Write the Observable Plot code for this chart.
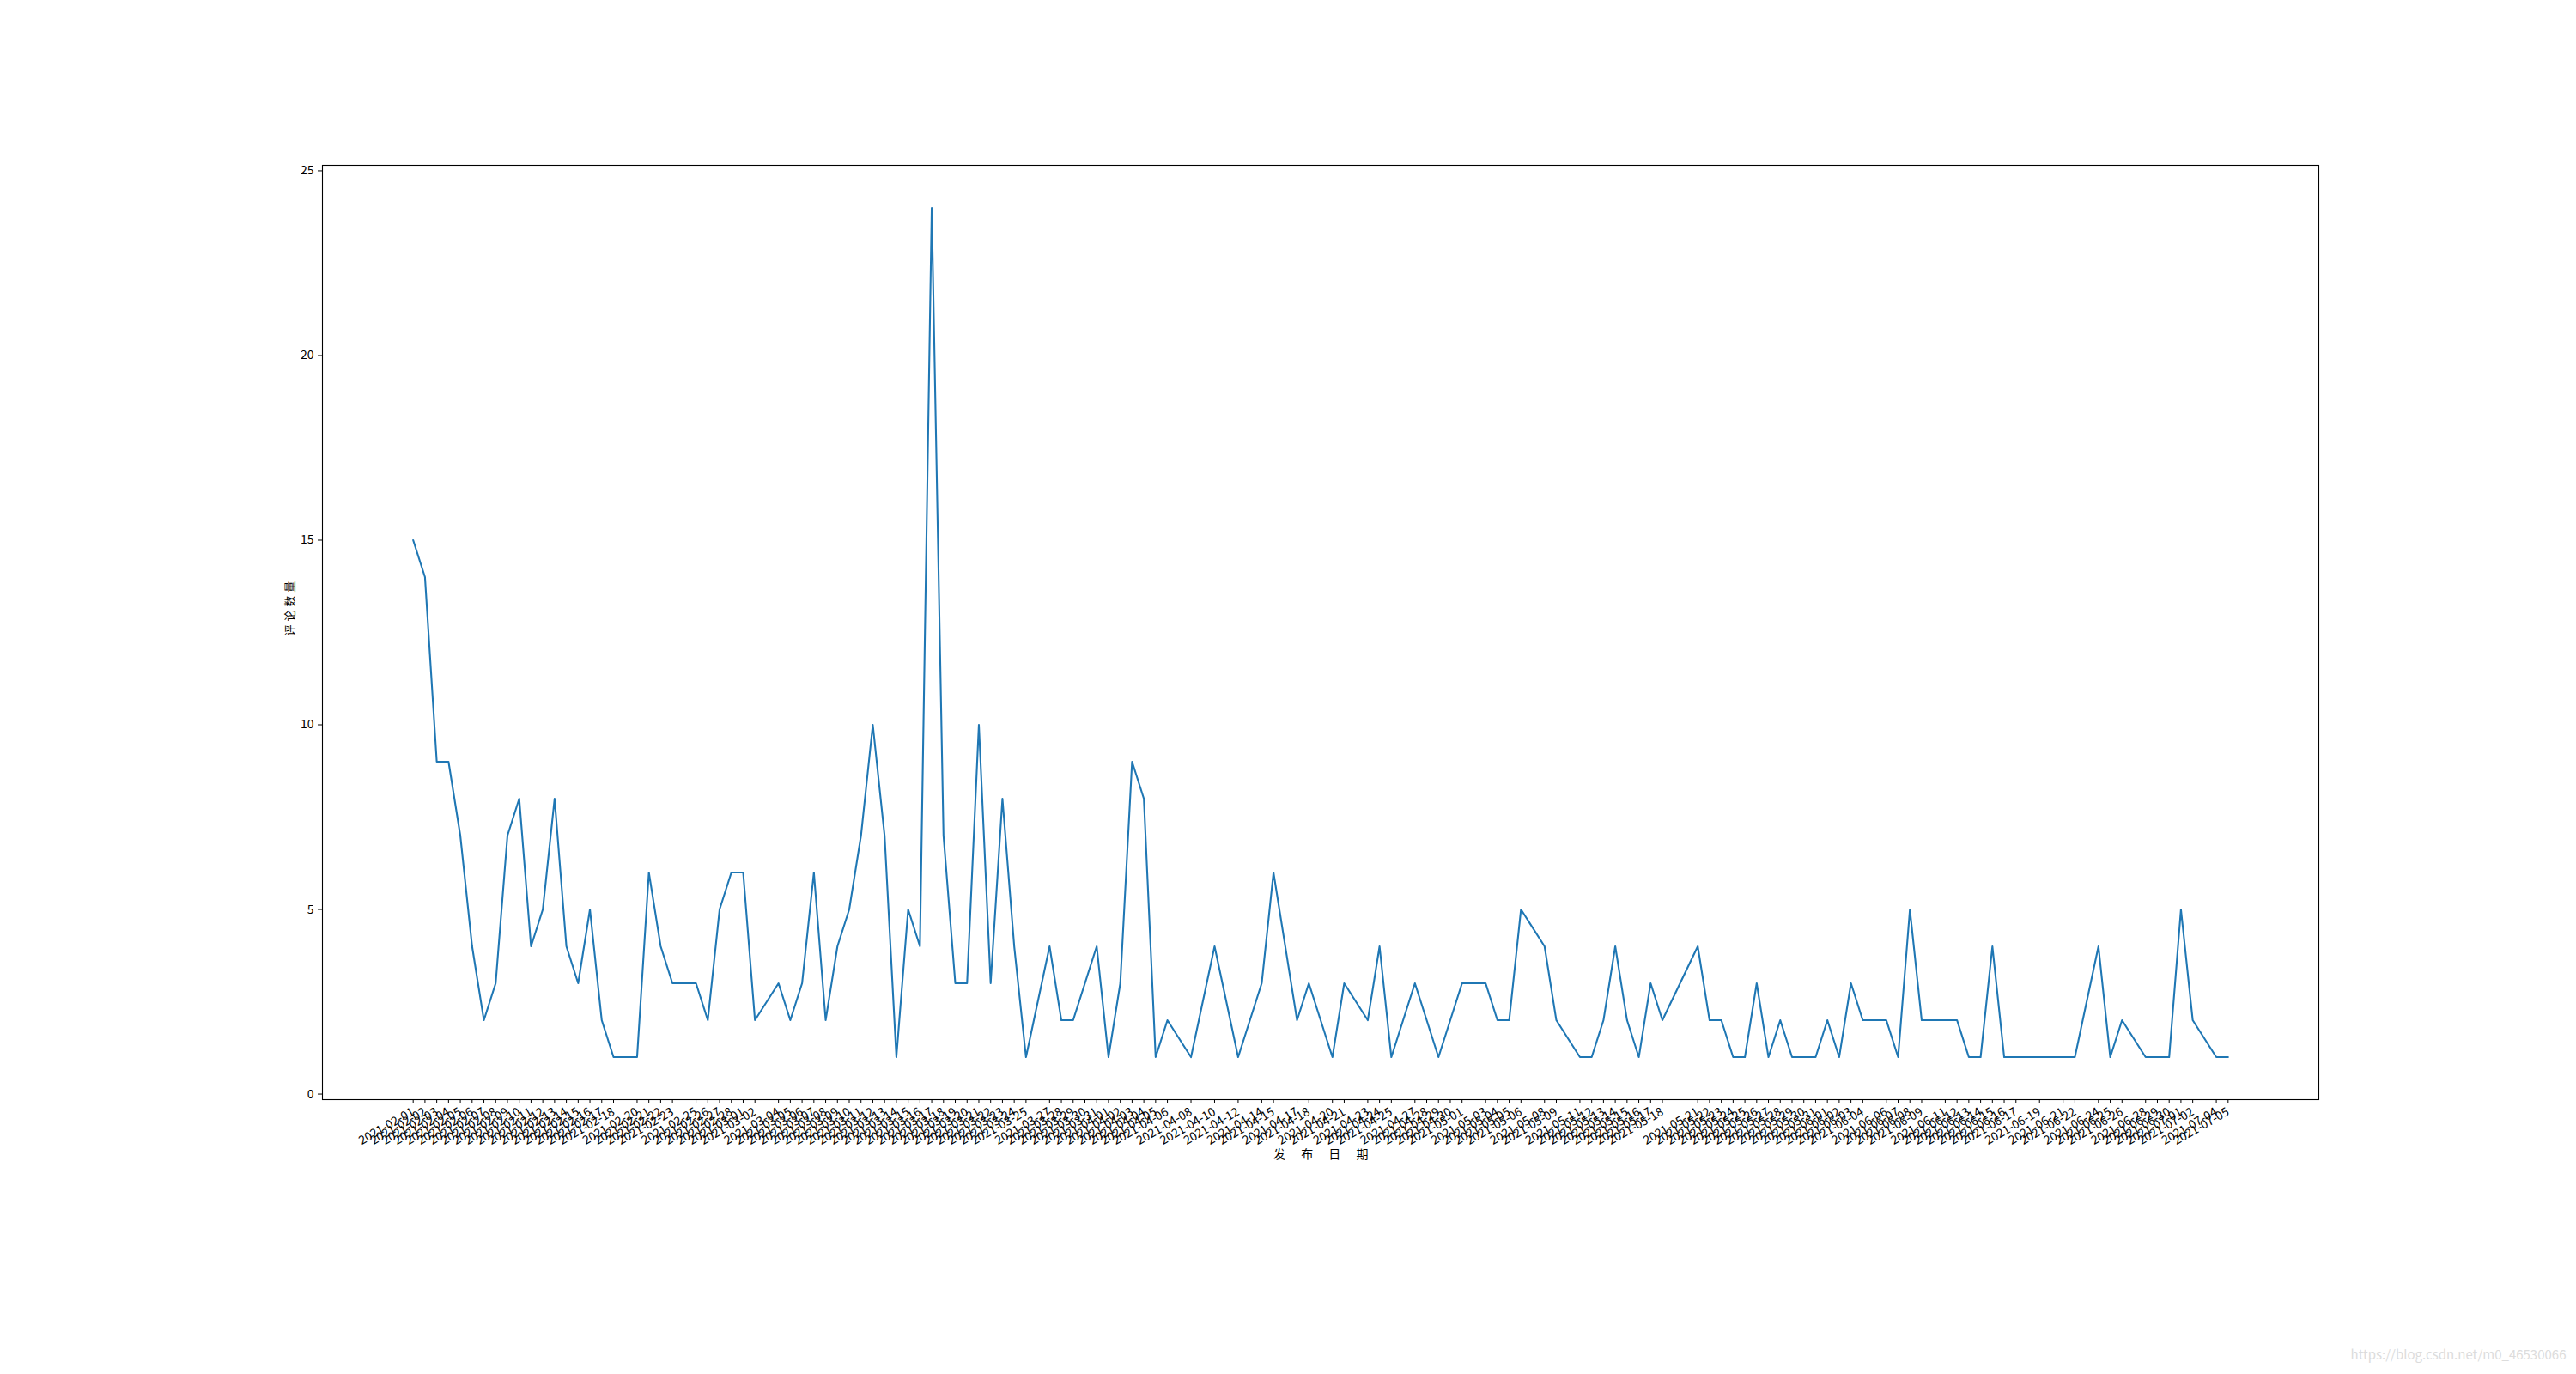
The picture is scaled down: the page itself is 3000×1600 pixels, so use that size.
<!DOCTYPE html>
<html><head><meta charset="utf-8">
<script src="https://cdn.jsdelivr.net/npm/d3@7"></script>
<script src="https://cdn.jsdelivr.net/npm/@observablehq/plot@0.6"></script>
<style>
html,body{margin:0;padding:0;background:#fff;}
#chart{position:relative;width:3000px;height:1600px;overflow:hidden;}
</style></head><body><div id="chart"></div>
<script>
const dates = [
"2021-02-01","2021-02-02","2021-02-03","2021-02-04","2021-02-05","2021-02-06","2021-02-07","2021-02-08","2021-02-09","2021-02-10",
"2021-02-11","2021-02-12","2021-02-13","2021-02-14","2021-02-15","2021-02-16","2021-02-17","2021-02-18","2021-02-20","2021-02-21",
"2021-02-22","2021-02-23","2021-02-25","2021-02-26","2021-02-27","2021-02-28","2021-03-01","2021-03-02","2021-03-04","2021-03-05",
"2021-03-06","2021-03-07","2021-03-08","2021-03-09","2021-03-10","2021-03-11","2021-03-12","2021-03-13","2021-03-14","2021-03-15",
"2021-03-16","2021-03-17","2021-03-18","2021-03-19","2021-03-20","2021-03-21","2021-03-22","2021-03-23","2021-03-24","2021-03-25",
"2021-03-27","2021-03-28","2021-03-29","2021-03-30","2021-03-31","2021-04-01","2021-04-02","2021-04-03","2021-04-04","2021-04-05",
"2021-04-06","2021-04-08","2021-04-10","2021-04-12","2021-04-14","2021-04-15","2021-04-17","2021-04-18","2021-04-20","2021-04-21",
"2021-04-23","2021-04-24","2021-04-25","2021-04-27","2021-04-28","2021-04-29","2021-04-30","2021-05-01","2021-05-03","2021-05-04",
"2021-05-05","2021-05-06","2021-05-08","2021-05-09","2021-05-11","2021-05-12","2021-05-13","2021-05-14","2021-05-15","2021-05-16",
"2021-05-17","2021-05-18","2021-05-21","2021-05-22","2021-05-23","2021-05-24","2021-05-25","2021-05-26","2021-05-27","2021-05-28",
"2021-05-29","2021-05-30","2021-05-31","2021-06-01","2021-06-02","2021-06-03","2021-06-04","2021-06-06","2021-06-07","2021-06-08",
"2021-06-09","2021-06-11","2021-06-12","2021-06-13","2021-06-14","2021-06-15","2021-06-16","2021-06-17","2021-06-19","2021-06-21",
"2021-06-22","2021-06-24","2021-06-25","2021-06-26","2021-06-28","2021-06-29","2021-06-30","2021-07-01","2021-07-02","2021-07-04",
"2021-07-05"
];
const counts = [
15,14,9,9,7,4,2,3,7,8,
4,5,8,4,3,5,2,1,1,6,
4,3,3,2,5,6,6,2,3,2,
3,6,2,4,5,7,10,7,1,5,
4,24,7,3,3,10,3,8,4,1,
4,2,2,3,4,1,3,9,8,1,
2,1,4,1,3,6,2,3,1,3,
2,4,1,3,2,1,2,3,3,2,
2,5,4,2,1,1,2,4,2,1,
3,2,4,2,2,1,1,3,1,2,
1,1,1,2,1,3,2,2,1,5,
2,2,2,1,1,4,1,1,1,1,
1,4,1,2,1,1,1,5,2,1,
1
];
const yTicks = [0, 5, 10, 15, 20, 25];
const xLabel = "发 布 日 期";
const yLabel = "评 论 数 量";
const watermark = "https://blog.csdn.net/m0_46530066";

const parse = d3.utcParse("%Y-%m-%d");
const data = dates.map((d, i) => ({date: parse(d), count: counts[i]}));
const x0 = data[0].date, x1 = data[data.length - 1].date;
const xpad = (x1 - x0) * 0.05;
const ymin = d3.min(counts), ymax = d3.max(counts);
const ypad = (ymax - ymin) * 0.05;
const font = "'Noto Sans CJK SC', 'Liberation Sans', sans-serif";

const chart = Plot.plot({
  width: 3000, height: 1600,
  marginLeft: 375, marginRight: 300, marginTop: 192, marginBottom: 320,
  style: {fontFamily: font, fontSize: "14px", background: "white", color: "black", overflow: "visible"},
  x: {type: "utc", domain: [new Date(+x0 - xpad), new Date(+x1 + xpad)]},
  y: {domain: [ymin - ypad, ymax + ypad]},
  marks: [
    Plot.axisY({ticks: yTicks, tickSize: 5, tickPadding: 5, label: null, fontSize: 14}),
    Plot.axisX({ticks: data.map(d => d.date), tickFormat: d3.utcFormat("%Y-%m-%d"), tickSize: 5,
      tickRotate: -30, tickPadding: 8, label: null, fontSize: 14}),
    Plot.line(data, {x: "date", y: "count", stroke: "#1f77b4", strokeWidth: 2.08}),
    Plot.frame({stroke: "black", strokeWidth: 1.1}),
    Plot.text([xLabel], {text: d => d, frameAnchor: "bottom", dy: 68, dx: 4, fontSize: 14}),
    Plot.text([yLabel], {text: d => d, frameAnchor: "left", dx: -38, dy: 4, rotate: -90, fontSize: 13}),
    Plot.text([watermark], {text: d => d, frameAnchor: "bottom-right", dx: 288, dy: 302, textAnchor: "end", fontSize: 15, fill: "#dcdcdc"})
  ]
});
d3.select(chart).selectAll("text").filter(function() { return this.textContent === xLabel; })
  .style("letter-spacing", "7.5px");
d3.select(chart).selectAll("text").filter(function() { return this.textContent === yLabel; })
  .style("letter-spacing", "0.5px");
document.getElementById("chart").appendChild(chart);
</script>
</body></html>
